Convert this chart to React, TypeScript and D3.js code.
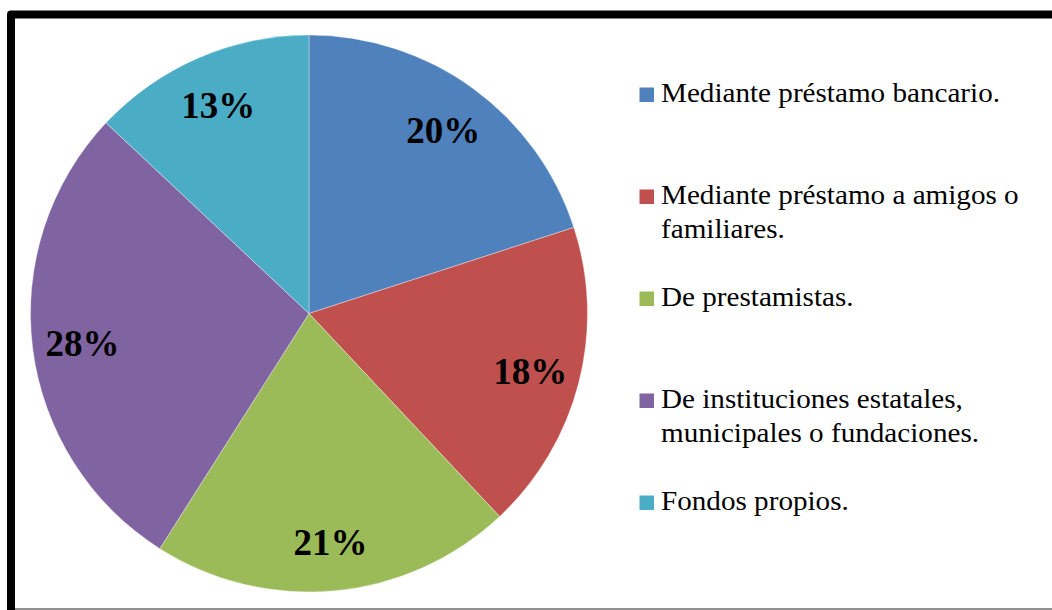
import React, { useEffect, useRef } from "react";
import * as d3 from "d3";

// chart data
const categories = [
  "Mediante préstamo bancario.",
  "Mediante préstamo a amigos o familiares.",
  "De prestamistas.",
  "De instituciones estatales, municipales o fundaciones.",
  "Fondos propios.",
];
const values = [20, 18, 21, 28, 13];
const colors = ["#4F81BD", "#C0504D", "#9BBB59", "#8064A2", "#4BACC6"];

const FONT = "'Liberation Serif', 'Times New Roman', serif";

export default function App() {
  const svgRef = useRef<SVGSVGElement | null>(null);

  useEffect(() => {
    const width = 1052;
    const height = 610;
    const cx = 309;
    const cy = 313.5;
    const radius = 278.5;

    const svg = d3.select(svgRef.current);
    svg.selectAll("*").remove();

    svg.append("rect").attr("width", width).attr("height", height).attr("fill", "#fff");

    // frame (only top and left visible, bottom cut)
    svg.append("line")
      .attr("x1", 11).attr("x2", width)
      .attr("y1", 609).attr("y2", 609)
      .attr("stroke", "#6b6b6b").attr("stroke-width", 1.5);
    svg.append("path")
      .attr("d", `M11,${height + 10} V14.5 H${width + 10}`)
      .attr("fill", "none")
      .attr("stroke", "#000")
      .attr("stroke-width", 8)
      .attr("stroke-linejoin", "round");

    const pie = d3.pie<number>().sort(null).value((d) => d);
    const arcs = pie(values);
    const arc = d3.arc<d3.PieArcDatum<number>>().innerRadius(0).outerRadius(radius);
    const labelR = radius * 0.82;
    const labelArc = d3.arc<d3.PieArcDatum<number>>().innerRadius(labelR).outerRadius(labelR);

    const g = svg.append("g").attr("transform", `translate(${cx},${cy})`);

    g.selectAll("path.slice")
      .data(arcs)
      .enter()
      .append("path")
      .attr("class", "slice")
      .attr("d", arc)
      .attr("fill", (d, i) => colors[i])
      .attr("stroke", "#ffffff")
      .attr("stroke-opacity", 0.6)
      .attr("stroke-width", 0.6);

    g.selectAll("text.pct")
      .data(arcs)
      .enter()
      .append("text")
      .attr("class", "pct")
      .attr("x", (d) => labelArc.centroid(d)[0])
      .attr("y", (d) => labelArc.centroid(d)[1] + 14)
      .attr("text-anchor", "middle")
      .attr("font-family", FONT)
      .attr("font-weight", "bold")
      .attr("font-size", "37px")
      .attr("fill", "#000")
      .text((d) => `${d.data}%`);

    // legend
    const legendY = d3.scalePoint<string>().domain(categories).range([102, 510]);
    const textX = 661;
    const maxW = 350;
    const lineH = 34;

    const legend = svg.append("g");
    categories.forEach((name, i) => {
      const y0 = legendY(name) as number;
      legend.append("rect")
        .attr("x", 639.5).attr("y", y0 - 14.5)
        .attr("width", 14.5).attr("height", 14.5)
        .attr("fill", colors[i]);

      // the source font runs a little wider than Liberation Serif
      const text = legend.append("text")
        .attr("transform", `translate(${textX},0) scale(1.06,1) translate(${-textX},0)`)
        .attr("font-family", FONT)
        .attr("font-size", "27.5px")
        .attr("fill", "#000");

      // simple word wrap
      const words = name.split(" ");
      let line: string[] = [];
      let lineNo = 0;
      let tspan = text.append("tspan").attr("x", textX).attr("y", y0);
      words.forEach((w) => {
        line.push(w);
        tspan.text(line.join(" "));
        if ((tspan.node() as SVGTSpanElement).getComputedTextLength() > maxW && line.length > 1) {
          line.pop();
          tspan.text(line.join(" "));
          line = [w];
          lineNo++;
          tspan = text.append("tspan").attr("x", textX).attr("y", y0 + lineNo * lineH).text(w);
        }
      });
    });
  }, []);

  return (
    <div style={{ position: "absolute", left: 0, top: 0 }}>
      <svg ref={svgRef} width={1052} height={610} style={{ display: "block" }} />
    </div>
  );
}
